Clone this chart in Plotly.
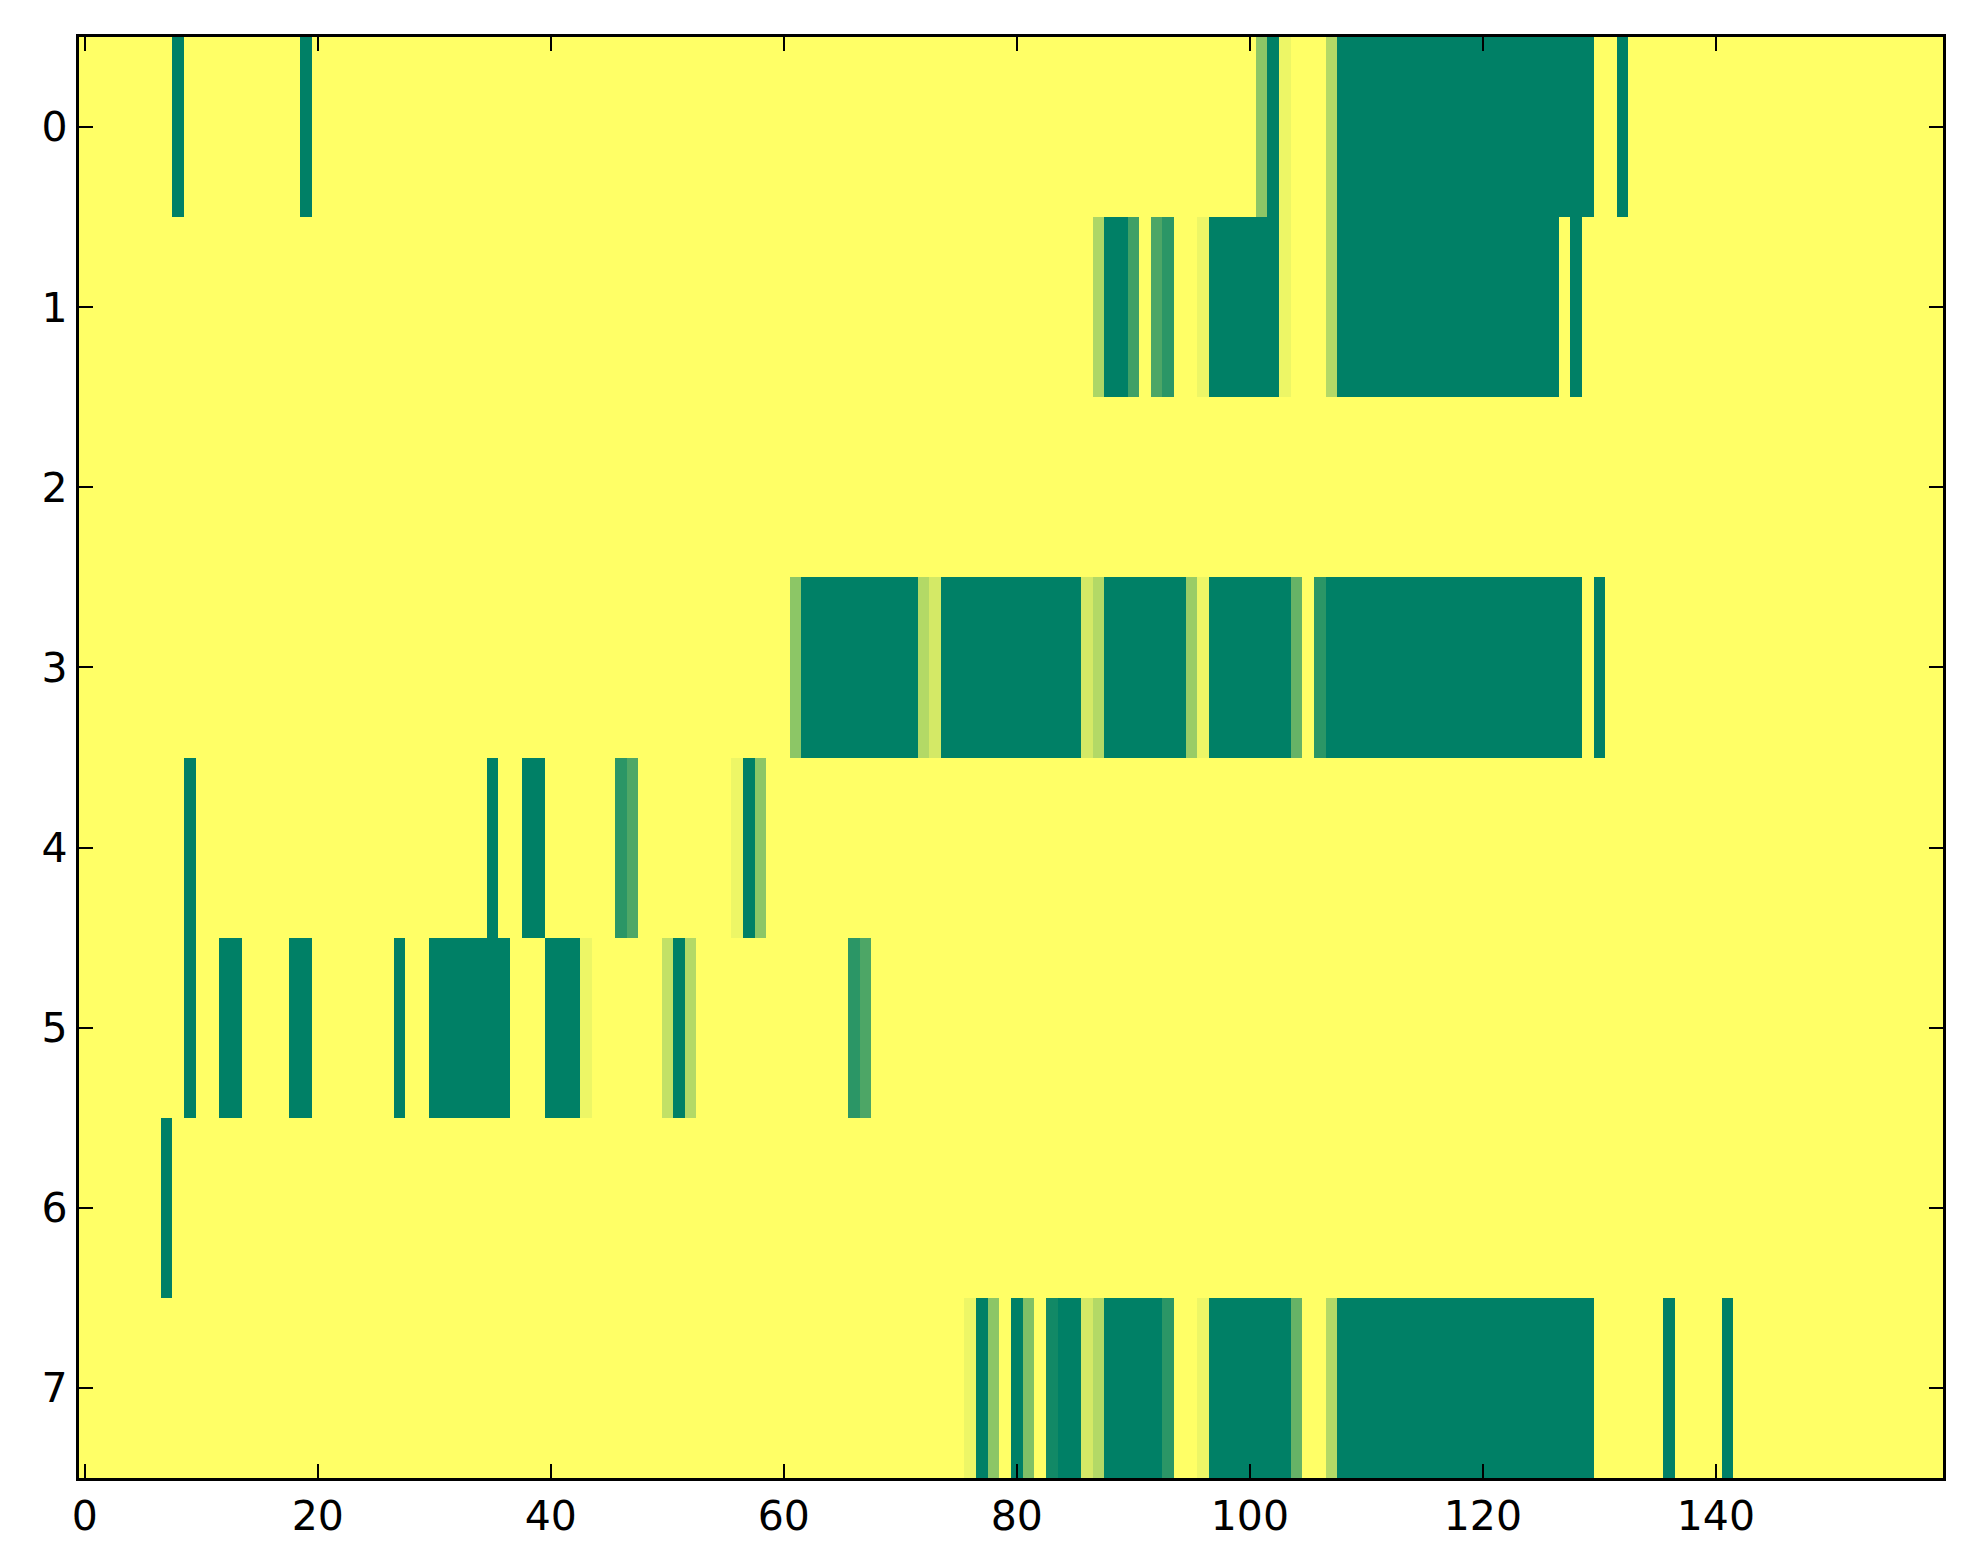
import numpy as np
import plotly.graph_objects as go

# grid size: 8 rows x 160 columns
N_ROWS = 8
N_COLS = 160

# (first column, last column, value) runs per row; everything else is 0
ROW_0 = [(8, 8, 1.0), (19, 19, 1.0), (101, 101, 0.45), (102, 102, 1.0), (103, 103, 0.07),
         (107, 107, 0.3), (108, 129, 1.0), (132, 132, 1.0)]
ROW_1 = [(87, 87, 0.32), (88, 89, 1.0), (90, 90, 0.75), (92, 92, 0.7), (93, 93, 0.83),
         (96, 96, 0.07), (97, 102, 1.0), (103, 103, 0.07), (107, 107, 0.3), (108, 126, 1.0),
         (128, 128, 1.0)]
ROW_2 = []
ROW_3 = [(61, 61, 0.45), (62, 71, 1.0), (72, 72, 0.3), (73, 73, 0.17), (74, 85, 1.0),
         (86, 86, 0.17), (87, 87, 0.3), (88, 94, 1.0), (95, 95, 0.4), (96, 96, 0.07),
         (97, 103, 1.0), (104, 104, 0.6), (106, 106, 0.83), (107, 128, 1.0), (130, 130, 1.0)]
ROW_4 = [(9, 9, 1.0), (35, 35, 1.0), (38, 39, 1.0), (46, 46, 0.83), (47, 47, 0.69),
         (56, 56, 0.07), (57, 57, 1.0), (58, 58, 0.45)]
ROW_5 = [(9, 9, 1.0), (12, 13, 1.0), (18, 19, 1.0), (27, 27, 1.0), (30, 36, 1.0),
         (40, 42, 1.0), (43, 43, 0.07), (50, 50, 0.24), (51, 51, 1.0), (52, 52, 0.3),
         (66, 66, 0.83), (67, 67, 0.7)]
ROW_6 = [(7, 7, 1.0)]
ROW_7 = [(76, 76, 0.07), (77, 77, 1.0), (78, 78, 0.45), (80, 80, 1.0), (81, 81, 0.5),
         (83, 83, 0.93), (84, 85, 1.0), (86, 86, 0.17), (87, 87, 0.3), (88, 92, 1.0),
         (93, 93, 0.83), (96, 96, 0.07), (97, 103, 1.0), (104, 104, 0.6), (107, 107, 0.3),
         (108, 129, 1.0), (136, 136, 1.0), (141, 141, 1.0)]

X_TICKS = [0, 20, 40, 60, 80, 100, 120, 140]
Y_TICKS = [0, 1, 2, 3, 4, 5, 6, 7]

rows = [ROW_0, ROW_1, ROW_2, ROW_3, ROW_4, ROW_5, ROW_6, ROW_7]
z = np.zeros((N_ROWS, N_COLS))
for r, runs in enumerate(rows):
    for a, b, v in runs:
        z[r, a:b + 1] = v

# matplotlib summer_r
summer_r = [[0.0, "rgb(255,255,102)"], [1.0, "rgb(0,128,102)"]]

fig = go.Figure(go.Heatmap(
    z=z,
    x=np.arange(N_COLS),
    y=np.arange(N_ROWS),
    colorscale=summer_r,
    zmin=0, zmax=1,
    showscale=False,
))

axis_style = dict(
    showline=True, linecolor="black", linewidth=3.4, mirror="ticks",
    ticks="inside", ticklen=14, tickwidth=1.7, tickcolor="black",
    showgrid=False, zeroline=False,
    tickfont=dict(family="DejaVu Sans", size=41, color="black"),
)

fig.update_layout(
    width=1963, height=1564, autosize=False,
    margin=dict(l=71, r=28, t=29, b=94),
    paper_bgcolor="white", plot_bgcolor="white",
    xaxis=dict(range=[-0.5, N_COLS - 0.5], tickvals=X_TICKS, **axis_style),
    yaxis=dict(range=[N_ROWS - 0.5, -0.5], tickvals=Y_TICKS, **axis_style),
)

fig.write_html("out.html")
